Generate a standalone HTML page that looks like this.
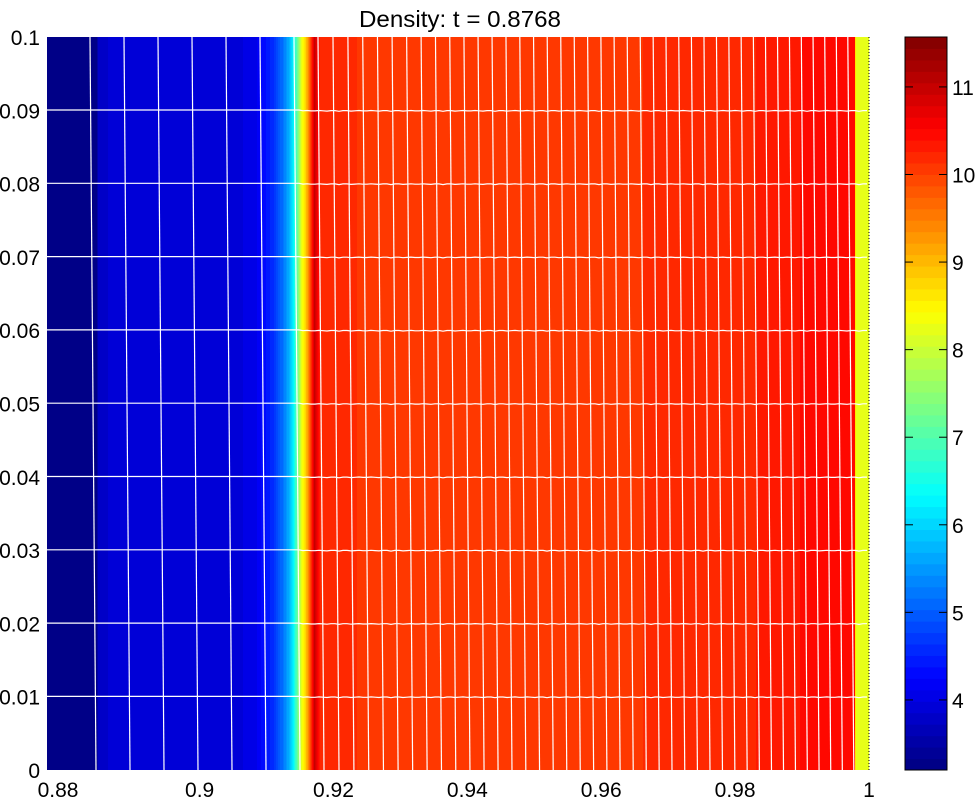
<!DOCTYPE html>
<html><head><meta charset="utf-8">
<style>
body{margin:0;background:#fff;}
svg text{font-family:"Liberation Sans",sans-serif;font-size:21px;fill:#000;}
svg text.title{font-size:23px;}
</style></head>
<body>
<svg id="fig" width="976" height="799" xmlns="http://www.w3.org/2000/svg">
<text class="title" x="460" y="27" text-anchor="middle" textLength="202" lengthAdjust="spacingAndGlyphs">Density: t = 0.8768</text>
<g id="heat"></g>
<g id="mesh"></g>
<g id="axes"></g>
<g id="cbar"></g>
</svg>
<script>
// Density profile along x (columns)
const profileX = [0.8772,0.8847,0.8848,0.905,0.9085,0.9110,0.9125,0.9138,0.9145,0.9152,0.9160,0.9166,0.9172,0.9180,0.93,0.96,0.98,0.99,0.997,0.9979,0.998,1.0];
const profileRho = [3.2,3.2,3.85,3.9,4.1,4.6,5.2,6.0,7.0,8.2,9.0,10.0,11.0,10.2,10.05,10.1,10.2,10.4,10.5,10.5,8.2,8.2];
const yTicks = [0,0.01,0.02,0.03,0.04,0.05,0.06,0.07,0.08,0.09,0.1];
const yTickLabels = ["0","0.01","0.02","0.03","0.04","0.05","0.06","0.07","0.08","0.09","0.1"];
const xTicks = [0.88,0.9,0.92,0.94,0.96,0.98,1];
const xTickLabels = ["0.88","0.9","0.92","0.94","0.96","0.98","1"];
const cTicks = [4,5,6,7,8,9,10,11];
const cTickLabels = ["4","5","6","7","8","9","10","11"];

const NS="http://www.w3.org/2000/svg";
const L=47,R=869,T=37,B=770;
const xMin=0.8772,xMax=1.0,yMin=0,yMax=0.1,cMin=3.2,cMax=11.57;
const sx=v=>L+(v-xMin)/(xMax-xMin)*(R-L);
const sy=v=>B-(v-yMin)/(yMax-yMin)*(B-T);
const cy=v=>B-(v-cMin)/(cMax-cMin)*(B-T);
function jet(t){t=Math.max(0,Math.min(1,t));
 const f=x=>Math.max(0,Math.min(1,1.5-Math.abs(4*t-x)));
 return `rgb(${Math.round(255*f(3))},${Math.round(255*f(2))},${Math.round(255*f(1))})`;}
function quant(v){const k=Math.min(63,Math.floor((v-cMin)/(cMax-cMin)*64));return jet((k+0.5)/64);}
function mk(tag,at,parent){const e=document.createElementNS(NS,tag);for(const k in at)e.setAttribute(k,at[k]);parent.appendChild(e);return e;}
function interp(x){for(let i=0;i<profileX.length-1;i++){if(x<=profileX[i+1]){const a=profileX[i],b=profileX[i+1];const t=b>a?(x-a)/(b-a):0;return profileRho[i]+t*(profileRho[i+1]-profileRho[i]);}}return profileRho[profileRho.length-1];}
const heat=document.getElementById('heat');
for(let px=L;px<R;px++){
 const x=xMin+(px+0.5-L)/(R-L)*(xMax-xMin);
 const r=mk('rect',{x:px,y:T,width:1.2,height:B-T,fill:quant(interp(x))},heat);
 
 
}
// mesh lines
const mesh=document.getElementById('mesh');
let mx=[];for(let p=90;p<300;p+=34)mx.push(p);
let p=318;let gap=15;while(p<848){mx.push(p);p+=gap;gap=Math.max(11,gap-0.09);}
mx.forEach(p=>{const l=mk('line',{x1:p,y1:T,x2:p+6,y2:B,stroke:'#fff','stroke-width':1.2},mesh);
 });
yTicks.slice(1,-1).forEach(v=>{let pts=[];for(let q=L;q<=R;q+=4){const w=q>300?0.8*Math.abs(Math.sin((q-300)/13*Math.PI)):0.3;pts.push(q+','+(sy(v)-w+(q>300?1:0)).toFixed(1));}
 const l=mk('polyline',{points:pts.join(' '),fill:'none',stroke:'#fff','stroke-width':1.2},mesh);
 });
// axes
const ax=document.getElementById('axes');
mk('line',{x1:R,y1:T,x2:R,y2:B,stroke:'#000','stroke-dasharray':'1,2'},ax);
yTicks.forEach((v,i)=>{const t=mk('text',{x:40,y:sy(v)+8,'text-anchor':'end'},ax);t.textContent=yTickLabels[i];
 });
xTicks.forEach((v,i)=>{const t=mk('text',{x:sx(v),y:797,'text-anchor':'middle'},ax);t.textContent=xTickLabels[i];
 if(i==0)t.setAttribute('x',58);
 });
// colorbar
const cb=document.getElementById('cbar');
for(let k=0;k<64;k++){const v0=cMin+k*(cMax-cMin)/64,v1=cMin+(k+1)*(cMax-cMin)/64;
 const r=mk('rect',{x:905,y:cy(v1),width:42,height:cy(v0)-cy(v1)+0.5,fill:jet((k+0.5)/64)},cb);
 }
mk('rect',{x:905,y:T,width:42,height:B-T,fill:'none',stroke:'#000','stroke-width':1},cb);
cTicks.forEach((v,i)=>{mk('line',{x1:905,x2:913,y1:cy(v),y2:cy(v),stroke:'#000'},cb);mk('line',{x1:939,x2:947,y1:cy(v),y2:cy(v),stroke:'#000'},cb);
 const t=mk('text',{x:952,y:cy(v)+8},cb);t.textContent=cTickLabels[i];
 });
</script>
</body></html>
